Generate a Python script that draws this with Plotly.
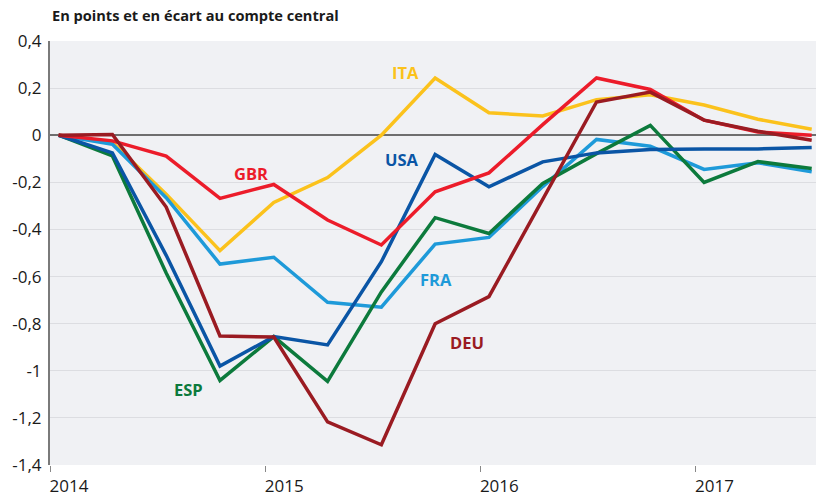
import plotly.graph_objects as go

# quarterly observations, 2014Q1 .. 2017Q3
x_start = 2014.04
n_points = 15
quarters = [round(x_start + 0.25 * i, 4) for i in range(n_points)]

ITA = [0, -0.03, -0.25, -0.49, -0.285, -0.18, 0.0, 0.243, 0.095, 0.082, 0.151, 0.172, 0.128, 0.068, 0.025]
FRA = [0, -0.038, -0.265, -0.547, -0.518, -0.709, -0.73, -0.462, -0.434, -0.218, -0.018, -0.047, -0.145, -0.117, -0.155]
ESP = [0, -0.088, -0.585, -1.041, -0.855, -1.045, -0.665, -0.35, -0.417, -0.205, -0.078, 0.042, -0.2, -0.112, -0.141]
USA = [0, -0.075, -0.51, -0.98, -0.855, -0.89, -0.537, -0.082, -0.219, -0.113, -0.075, -0.061, -0.059, -0.058, -0.052]
GBR = [0, -0.024, -0.089, -0.268, -0.209, -0.36, -0.466, -0.24, -0.16, 0.045, 0.243, 0.194, 0.064, 0.014, 0.0]
DEU = [0, 0.003, -0.305, -0.852, -0.857, -1.217, -1.314, -0.80, -0.685, -0.27, 0.141, 0.183, 0.064, 0.017, -0.021]

series = [
    ("ITA", ITA, "#FBC21C"),
    ("FRA", FRA, "#1E9AD9"),
    ("ESP", ESP, "#0C7A3C"),
    ("USA", USA, "#0A55A5"),
    ("GBR", GBR, "#EC1C2A"),
    ("DEU", DEU, "#9A1B22"),
]

# label positions (data coords)
label_x = {"ITA": 2015.652, "USA": 2015.638, "GBR": 2014.933, "FRA": 2015.796, "DEU": 2015.94, "ESP": 2014.645}
label_y = {"ITA": 0.267, "USA": -0.102, "GBR": -0.161, "FRA": -0.614, "DEU": -0.881, "ESP": -1.08}

y_tickvals = [0.4, 0.2, 0, -0.2, -0.4, -0.6, -0.8, -1, -1.2, -1.4]
y_ticktext = ["0,4", "0,2", "0", "-0,2", "-0,4", "-0,6", "-0,8", "-1", "-1,2", "-1,4"]
x_tickvals = [2014, 2015, 2016, 2017]
x_ticktext = ["2014", "2015", "2016", "2017"]

fig = go.Figure()
for name, vals, color in series:
    fig.add_trace(go.Scatter(x=quarters, y=vals, mode="lines", name=name,
                             line=dict(color=color, width=3.5), showlegend=False))

for name, vals, color in series:
    fig.add_annotation(x=label_x[name], y=label_y[name], text="<b>%s</b>" % name,
                       showarrow=False, font=dict(family="Open Sans", size=16.5, color=color),
                       xanchor="center", yanchor="middle")

fig.add_annotation(xref="paper", yref="paper", x=0, y=1, yshift=26, xanchor="left", yanchor="middle",
                   text="<b>En points et en écart au compte central</b>", showarrow=False,
                   font=dict(family="Open Sans", size=14.6, color="#1a1a1a"))

fig.update_layout(
    width=816, height=497,
    margin=dict(l=50, r=0, t=41, b=32),
    paper_bgcolor="white", plot_bgcolor="#F0F1F4",
    font=dict(family="Open Sans", size=17, color="#1a1a1a"),
    xaxis=dict(range=[2014, 2017.56], tickvals=x_tickvals, ticktext=x_ticktext,
               showgrid=False, zeroline=False, showline=False,
               ticks="outside", ticklen=6, tickwidth=1, tickcolor="#888888",
               ticklabelshift=19, automargin=False, fixedrange=True),
    yaxis=dict(range=[-1.4, 0.4], tickvals=y_tickvals, ticktext=y_ticktext,
               showgrid=True, gridcolor="#DCDDE1", gridwidth=1,
               zeroline=True, zerolinecolor="#6E6E6E", zerolinewidth=2,
               showline=True, linecolor="#7A7A7A", linewidth=2,
               ticks="", ticklabelstandoff=3, automargin=False, fixedrange=True),
)

fig.write_html("out.html", config={"displayModeBar": False},
               post_script="document.body.style.margin='0px';document.body.style.padding='0px';")
